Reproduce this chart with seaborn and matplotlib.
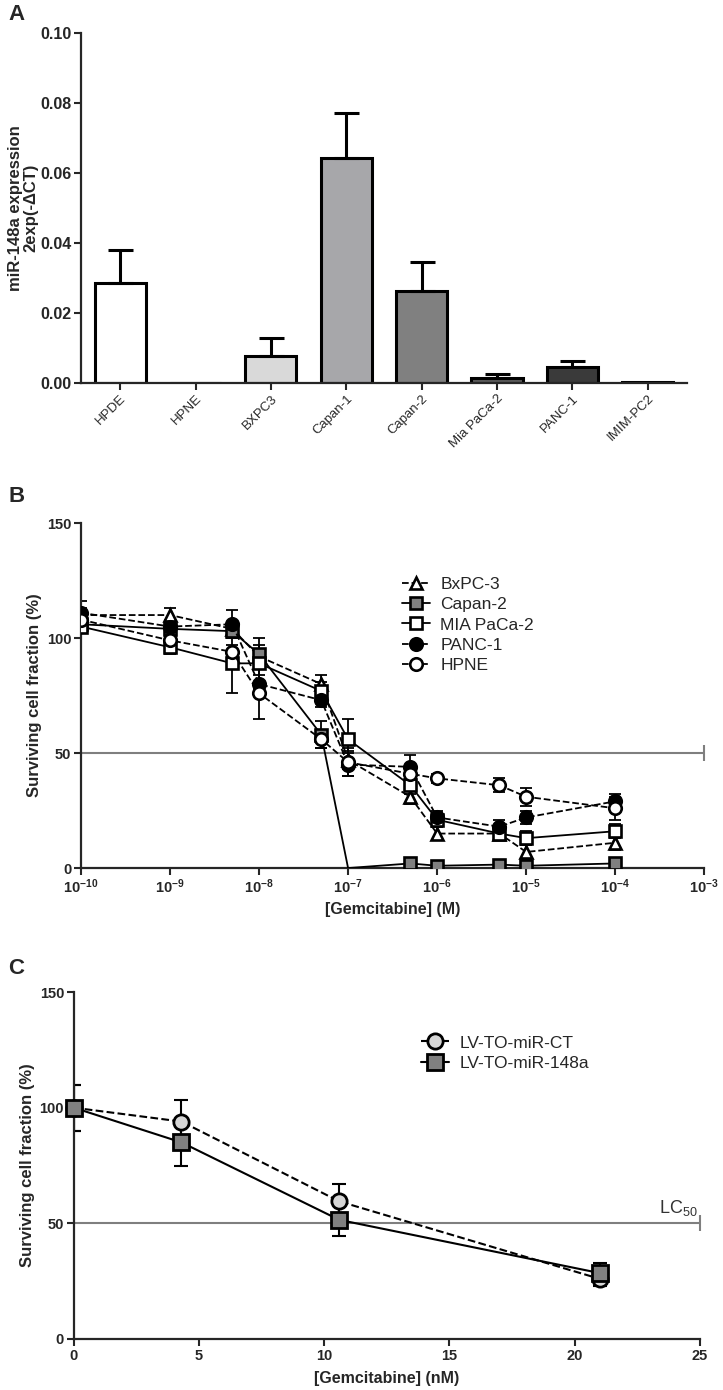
import numpy as np
import matplotlib
matplotlib.use("Agg")
import matplotlib.pyplot as plt
import seaborn as sns

# ---- panel A: miR-148a expression per cell line
cell_lines = ["HPDE", "HPNE", "BXPC3", "Capan-1", "Capan-2", "Mia PaCa-2", "PANC-1", "IMIM-PC2"]
expression = [0.0286, 0.0, 0.0078, 0.0642, 0.0263, 0.0015, 0.0046, 0.0003]
expression_err = [0.0094, 0.0, 0.0051, 0.0130, 0.0083, 0.0010, 0.0017, 0.0]
bar_colors = ["#ffffff", "#ffffff", "#d9d9d9", "#a6a6aa", "#808080", "#5c5c5c", "#3a3a3a", "#1c1c1c"]

# ---- panel B: dose response of pancreatic lines
gem_molar = [1e-10, 1e-9, 5e-9, 1e-8, 5e-8, 1e-7, 5e-7, 1e-6, 5e-6, 1e-5, 1e-4]
bxpc3 = [110, 110, 104, 92, 80, 47, 31, 15, 15, 7, 11]
bxpc3_err = [3, 3, 3, 3, 4, 4, 3, 3, 3, 3, 3]
capan2 = [106, 104, 103, 93, 58, 0, 2, 1, 1.5, 1, 2]
capan2_err = [3, 3, 3, 4, 6, 0, 1, 1, 1, 1, 1]
mia = [105, 96, 89, 89, 77, 56, 36, 21, 15, 13, 16]
mia_err = [3, 3, 13, 11, 4, 9, 4, 3, 3, 3, 3]
panc1 = [111, 105, 106, 80, 73, 45, 44, 22, 18, 22, 29]
panc1_err = [5, 3, 6, 4, 3, 5, 5, 3, 3, 3, 3]
hpne = [108, 99, 94, 76, 56, 46, 41, 39, 36, 31, 26]
hpne_err = [3, 3, 3, 11, 4, 6, 3, 2, 3, 4, 5]

# ---- panel C: LV-TO constructs in nM
gem_nm = [0, 4.3, 10.6, 21]
lv_ct = [100, 94, 59.5, 26]
lv_ct_err = [10, 9.5, 7.4, 3]
lv_148a = [100, 85, 51.5, 28.5]
lv_148a_err = [10, 10, 7, 4.4]

sns.set_style("ticks")
plt.rcParams["font.family"] = ["Liberation Sans", "DejaVu Sans"]
plt.rcParams["mathtext.fontset"] = "custom"
plt.rcParams["mathtext.rm"] = "Liberation Sans"
plt.rcParams["mathtext.bf"] = "Liberation Sans:bold"
plt.rcParams["mathtext.default"] = "regular"

fig = plt.figure(figsize=(7.23, 13.9), dpi=100)
axA = fig.add_axes([0.112, 0.7245, 0.838, 0.2518])
axB = fig.add_axes([0.112, 0.3755, 0.862, 0.2482])
axC = fig.add_axes([0.102, 0.0367, 0.866, 0.2496])


def style_axes(ax, fs=10.5):
    for side in ["top", "right"]:
        ax.spines[side].set_visible(False)
    for side in ["left", "bottom"]:
        ax.spines[side].set_linewidth(1.6)
    ax.tick_params(width=1.5, length=5, labelsize=fs, pad=2)
    for lab in ax.get_yticklabels():
        lab.set_fontweight("bold")


# ---------------- A
sns.barplot(x=cell_lines, y=expression, hue=cell_lines, palette=bar_colors,
            width=0.68, edgecolor="black", linewidth=2.2, errorbar=None,
            legend=False, ax=axA)
xpos = np.arange(len(cell_lines))
err_low = np.zeros(len(cell_lines))
mask = np.array(expression_err) > 0
axA.errorbar(xpos[mask], np.array(expression)[mask],
             yerr=[err_low[mask], np.array(expression_err)[mask]],
             fmt="none", ecolor="black", elinewidth=2.2, capsize=9, capthick=2.2, zorder=3)
axA.set_xlim(-0.52, 7.52)
axA.set_ylim(0, 0.1)
axA.set_yticks(np.arange(0, 0.101, 0.02))
axA.set_yticklabels([f"{v:.2f}" for v in np.arange(0, 0.101, 0.02)])
style_axes(axA, fs=11.5)
axA.set_xticks(xpos)
axA.set_xticklabels(cell_lines, rotation=45, ha="right", va="top",
                    rotation_mode="anchor", fontsize=9.5)
axA.set_xlabel("")
axA.set_ylabel("miR-148a expression\n2exp(-\u0394CT)", fontsize=12, fontweight="bold",
               linespacing=1.05)
axA.yaxis.set_label_coords(-0.07, 0.5)

# ---------------- B
series_b = [
    ("BxPC-3", bxpc3, bxpc3_err, "^", "white", "--"),
    ("Capan-2", capan2, capan2_err, "s", "#808080", "-"),
    ("MIA PaCa-2", mia, mia_err, "s", "white", "-"),
    ("PANC-1", panc1, panc1_err, "o", "black", "--"),
    ("HPNE", hpne, hpne_err, "o", "white", "--"),
]
axB.set_xscale("log")
axB.axhline(50, color="#7f7f7f", lw=1.5, zorder=1)
axB.plot([1e-3], [50], marker="|", ms=11, mew=1.5, color="#7f7f7f", clip_on=False)
for name, vals, errs, mk, fc, ls in series_b:
    axB.errorbar(gem_molar, vals, yerr=errs, fmt="none", ecolor="black",
                 elinewidth=1.3, capsize=4, capthick=1.3, zorder=2)
    every = [i for i, v in enumerate(vals) if v > 0]
    sns.lineplot(x=gem_molar, y=vals, ax=axB, color="black", lw=1.3,
                 linestyle=ls, marker=mk, markersize=9, markerfacecolor=fc,
                 markeredgecolor="black", markeredgewidth=1.9, markevery=every,
                 label=name, zorder=4)
axB.set_xlim(1e-10, 1e-3)
axB.set_ylim(0, 150)
axB.set_yticks([0, 50, 100, 150])
axB.set_xticks([10.0 ** k for k in range(-10, -2)])
axB.set_xticklabels([r"$\mathbf{10^{%d}}$" % k for k in range(-10, -2)])
axB.xaxis.set_minor_locator(matplotlib.ticker.NullLocator())
style_axes(axB)
axB.set_xlabel("[Gemcitabine] (M)", fontsize=11.5, fontweight="bold", labelpad=4)
axB.set_ylabel("Surviving cell fraction (%)", fontsize=12, fontweight="bold")
axB.yaxis.set_label_coords(-0.062, 0.5)
axB.legend(loc="upper left", bbox_to_anchor=(0.49, 0.89), frameon=False,
           fontsize=12.5, handlelength=1.6, handletextpad=0.6, labelspacing=0.3)

# ---------------- C
axC.axhline(50, color="#7f7f7f", lw=1.5, zorder=1)
axC.plot([25], [50], marker="|", ms=11, mew=1.5, color="#7f7f7f", clip_on=False)
axC.text(24.9, 52.5, r"LC$_{50}$", ha="right", va="bottom", fontsize=13, color="#333333")
series_c = [
    ("LV-TO-miR-CT", lv_ct, lv_ct_err, "o", "#d6d6d6", "--"),
    ("LV-TO-miR-148a", lv_148a, lv_148a_err, "s", "#808080", "-"),
]
for name, vals, errs, mk, fc, ls in series_c:
    axC.errorbar(gem_nm, vals, yerr=errs, fmt="none", ecolor="black",
                 elinewidth=1.5, capsize=5, capthick=1.5, zorder=2)
    sns.lineplot(x=gem_nm, y=vals, ax=axC, color="black", lw=1.5,
                 linestyle=ls, marker=mk, markersize=11, markerfacecolor=fc,
                 markeredgecolor="black", markeredgewidth=2, label=name,
                 zorder=4, clip_on=False)
axC.set_xlim(0, 25)
axC.set_ylim(0, 150)
axC.set_yticks([0, 50, 100, 150])
axC.set_xticks([0, 5, 10, 15, 20, 25])
style_axes(axC)
for lab in axC.get_xticklabels():
    lab.set_fontweight("bold")
axC.set_xlabel("[Gemcitabine] (nM)", fontsize=11.5, fontweight="bold", labelpad=6)
axC.set_ylabel("Surviving cell fraction (%)", fontsize=12, fontweight="bold")
axC.yaxis.set_label_coords(-0.062, 0.5)
axC.legend(loc="upper left", bbox_to_anchor=(0.53, 0.92), frameon=False,
           fontsize=12.5, handlelength=1.6, handletextpad=0.6, labelspacing=0.3)

# panel letters
for letter, ypix in [("A", 15), ("B", 497), ("C", 968)]:
    fig.text(8 / 723, 1 - ypix / 1390, letter, fontsize=16, fontweight="bold",
             ha="left", va="center")

fig.savefig("out.png", dpi=100)
